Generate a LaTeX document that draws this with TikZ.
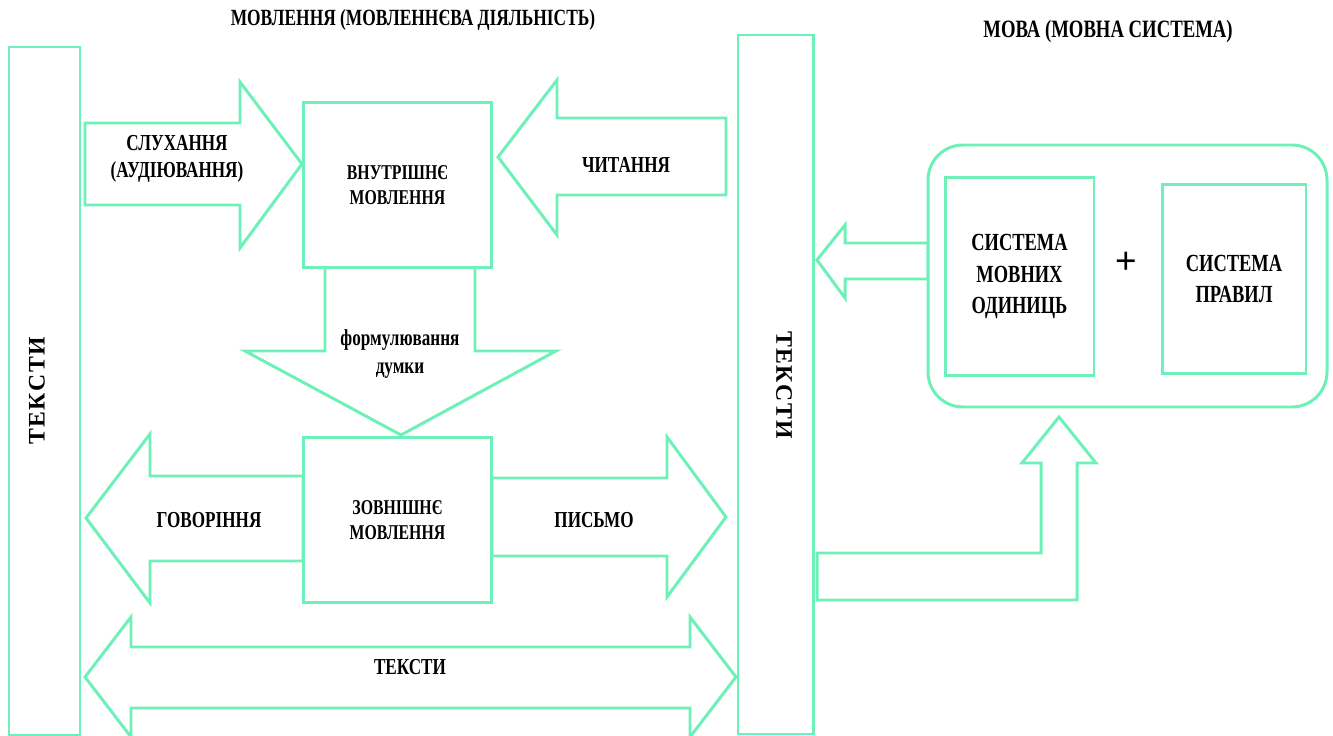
\documentclass[tikz,border=0pt]{standalone}
\usepackage{fontspec}
\setmainfont{Liberation Serif}
\newfontfamily\narrowfont[FakeStretch=0.75]{Liberation Serif}
\newfontfamily\spacedfont[LetterSpace=7]{Liberation Serif}
\newfontfamily\plusfont{Liberation Sans}
\usetikzlibrary{positioning}
\definecolor{mint}{RGB}{110,240,185}

\begin{document}
\begin{tikzpicture}[x=0.02cm,y=-0.02cm,line join=miter]
  \tikzstyle{greenline}=[draw=mint,line width=1.7pt,fill=white]
  \tikzstyle{lbl}=[font=\narrowfont\bfseries\fontsize{13}{15.5}\selectfont,align=center,inner sep=0pt]
  \tikzstyle{sidelbl}=[font=\spacedfont\bfseries\fontsize{13.5}{14}\selectfont,inner sep=0pt]
  \tikzstyle{box}=[greenline,inner sep=0pt,align=center,font=\narrowfont\bfseries\fontsize{12}{14}\selectfont]
  \tikzstyle{bigbox}=[box,font=\narrowfont\bfseries\fontsize{14}{18}\selectfont]
  \useasboundingbox (0,0) rectangle (1333,736);

  % titles
  \node[lbl,font=\narrowfont\bfseries\fontsize{13.2}{15.5}\selectfont] (speechtitle) at (413,20)
    {МОВЛЕННЯ (МОВЛЕННЄВА ДІЯЛЬНІСТЬ)};
  \node[lbl,font=\narrowfont\bfseries\fontsize{14.2}{15.5}\selectfont] (langtitle) at (1108,32)
    {МОВА (МОВНА СИСТЕМА)};

  % side bars with texts
  \draw[greenline] (9,47) rectangle (80,735);
  \node[sidelbl,rotate=90] (textsleft) at (37,391) {ТЕКСТИ};
  \draw[greenline] (738,35) rectangle (813,734);
  \node[sidelbl,rotate=-90] (textsright) at (784,385) {ТЕКСТИ};

  % block arrows round the inner speech
  \draw[greenline] (85,123) -- (240,123) -- (240,82) -- (302,164) -- (240,248)
    -- (240,205) -- (85,205) -- cycle;
  \draw[greenline] (726,118) -- (557,118) -- (557,80) -- (498,157) -- (557,235)
    -- (557,195) -- (726,195) -- cycle;
  \draw[greenline] (325,262) -- (475,262) -- (475,351) -- (556,351) -- (401,435)
    -- (245,351) -- (325,351) -- cycle;

  % block arrows round the outer speech
  \draw[greenline] (303,476) -- (150,476) -- (150,434) -- (86,518) -- (150,603)
    -- (150,561) -- (303,561) -- cycle;
  \draw[greenline] (492,478) -- (667,478) -- (667,437) -- (726,517) -- (667,597)
    -- (667,556) -- (492,556) -- cycle;
  \draw[greenline] (131,647) -- (690,647) -- (690,617) -- (736,677) -- (690,737)
    -- (690,708) -- (131,708) -- (131,737) -- (85,677) -- (131,617) -- cycle;

  \node[box,minimum width=3.78cm,minimum height=3.3cm] (inner) at (397.5,185)
    {ВНУТРІШНЄ\\МОВЛЕННЯ};
  \node[box,minimum width=3.78cm,minimum height=3.32cm] (outer) at (397.5,520)
    {ЗОВНІШНЄ\\МОВЛЕННЯ};

  \node[lbl] (listening) at (177,159) {СЛУХАННЯ\\(АУДІЮВАННЯ)};
  \node[lbl] (reading) at (626,165) {ЧИТАННЯ};
  \node[lbl] (thought) at (400,354) {формулювання\\думки};
  \node[lbl] (speaking) at (209,520) {ГОВОРІННЯ};
  \node[lbl] (writing) at (594,520) {ПИСЬМО};
  \node[lbl] (texts) at (410,667) {ТЕКСТИ};

  % language system
  \draw[greenline] (845,243) -- (928,243) -- (928,279) -- (845,279) -- (845,298)
    -- (817,260) -- (845,225) -- cycle;
  \draw[greenline,rounded corners=0.7cm] (928,145) rectangle (1327,407);
  \node[bigbox,minimum width=2.98cm,minimum height=3.98cm] (units) at (1019.5,276.5)
    {СИСТЕМА\\МОВНИХ\\ОДИНИЦЬ};
  \node[bigbox,minimum width=2.88cm,minimum height=3.8cm] (rules) at (1234,279)
    {СИСТЕМА\\ПРАВИЛ};
  \node[font=\plusfont\fontsize{21}{21}\selectfont,inner sep=0pt] (plus) at (1126,263) {+};

  \draw[greenline] (817,553) -- (1041,553) -- (1041,463) -- (1022,463) -- (1059,417)
    -- (1096,463) -- (1077,463) -- (1077,600) -- (817,600) -- cycle;
\end{tikzpicture}
\end{document}
